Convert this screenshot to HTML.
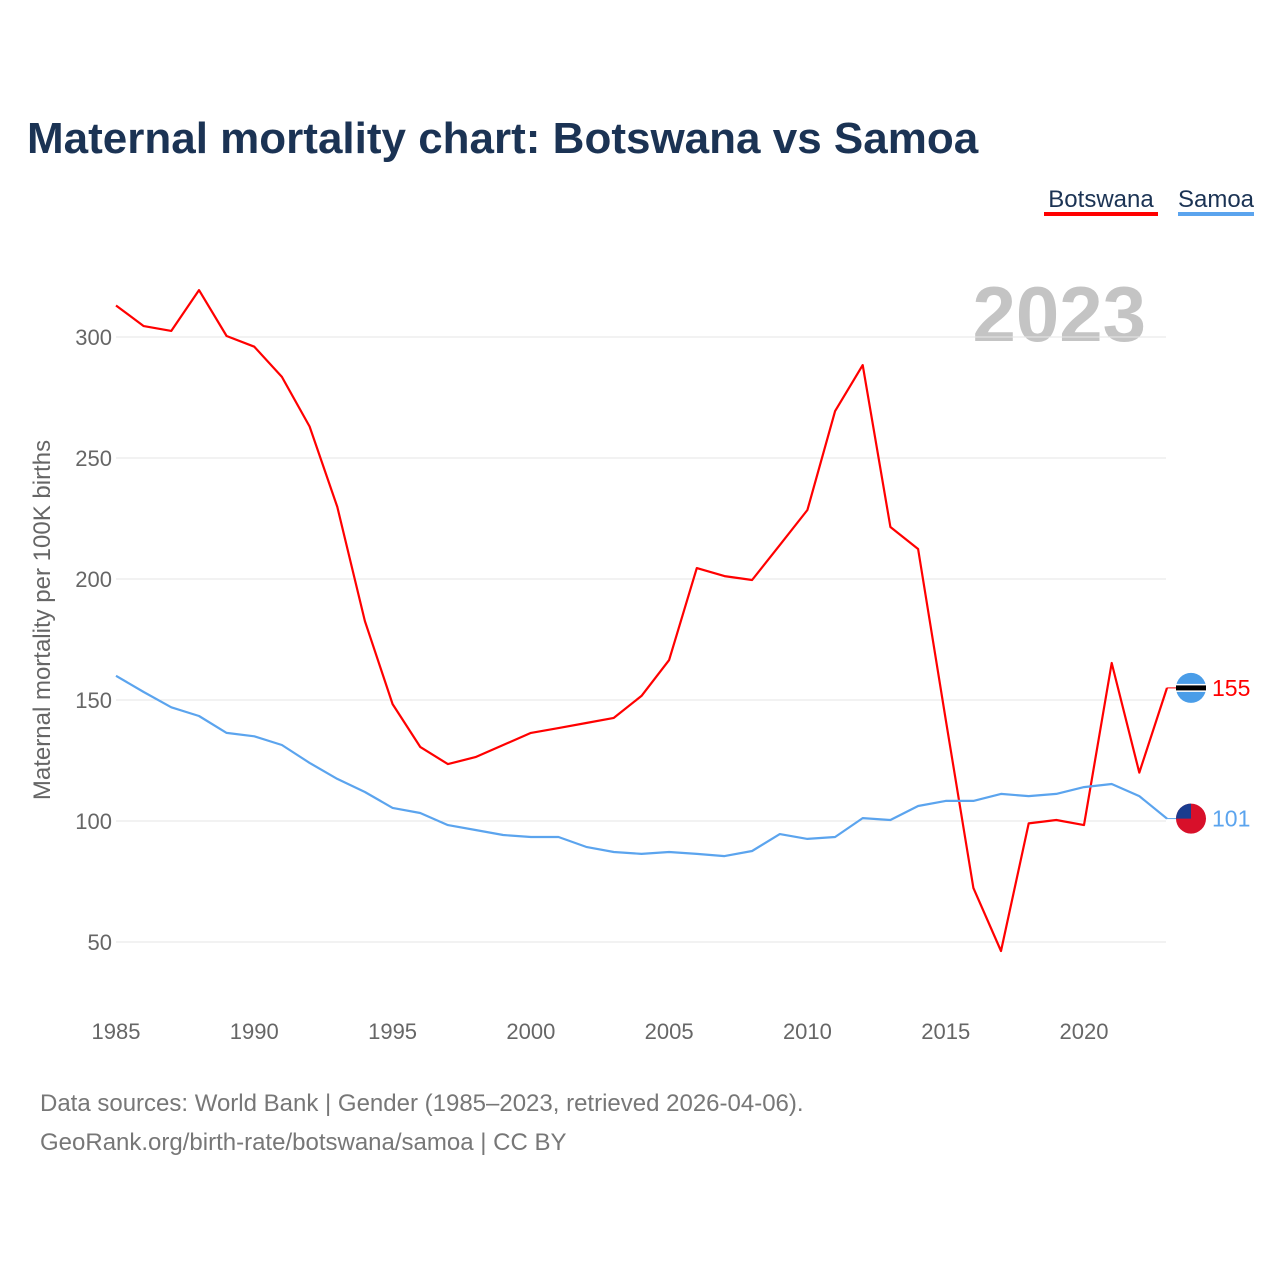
<!DOCTYPE html>
<html><head><meta charset="utf-8"><style>
html,body{margin:0;padding:0;background:#fff;}
body{width:1280px;height:1280px;position:relative;font-family:"Liberation Sans",sans-serif;overflow:hidden}
</style></head><body>
<svg width="1280" height="1280" xmlns="http://www.w3.org/2000/svg" id="chart">
<text x="27" y="153" font-size="44" font-weight="bold" fill="#1b3354">Maternal mortality chart: Botswana vs Samoa</text>
<g><text x="1101" y="207" font-size="24" fill="#1b3354" text-anchor="middle">Botswana</text><rect x="1044" y="212" width="114" height="4" fill="#ff0000"/></g>
<g><text x="1216" y="207" font-size="24" fill="#1b3354" text-anchor="middle">Samoa</text><rect x="1178" y="212" width="76" height="4" fill="#5ba4ee"/></g>
<text x="1146" y="341" font-size="78" font-weight="bold" fill="#c4c4c4" text-anchor="end">2023</text>
<g id="grid"></g><g id="xt"></g><g id="lines"></g>
<text transform="translate(50,620) rotate(-90)" font-size="24" fill="#666" text-anchor="middle">Maternal mortality per 100K births</text>
<text x="40" y="1111" font-size="24" fill="#777">Data sources: World Bank | Gender (1985–2023, retrieved 2026-04-06).</text>
<text x="40" y="1150" font-size="24" fill="#777">GeoRank.org/birth-rate/botswana/samoa | CC BY</text>
</svg>
<script>
const years=[];for(let y=1985;y<=2023;y++)years.push(y);
const botswana=[313,304.5,302.5,319.4,300.4,296,283.5,263,229.8,182.6,148.3,130.6,123.5,126.4,131.4,136.4,138.4,140.5,142.6,151.7,166.5,204.5,201.2,199.6,214,228.5,269.4,288.4,221.5,212.4,142,72.3,46.3,99,100.4,98.3,165.3,120,155];
const samoa=[160,153.3,147,143.4,136.4,135,131.4,124,117.4,112,105.4,103.3,98.3,96.3,94.2,93.4,93.4,89.3,87.2,86.4,87.2,86.4,85.5,87.6,94.6,92.6,93.4,101.2,100.4,106.2,108.3,108.3,111.2,110.3,111.2,114,115.3,110.3,101];
const yTicks=[50,100,150,200,250,300];
const xTicks=[1985,1990,1995,2000,2005,2010,2015,2020];
const NS="http://www.w3.org/2000/svg";
const X=v=>116+(v-1985)*(1084-116)/35;
const Y=v=>821-(v-100)*2.42;
function el(t,a,p){const e=document.createElementNS(NS,t);for(const k in a)e.setAttribute(k,a[k]);document.getElementById(p)?document.getElementById(p).appendChild(e):p.appendChild(e);return e;}
yTicks.forEach(t=>{
 const l=el('line',{x1:116,x2:1166,y1:Y(t),y2:Y(t),stroke:'#e6e6e6','stroke-width':1},'grid');
 
 
 const tx=el('text',{x:112,y:Y(t)+8,'font-size':22,fill:'#666','text-anchor':'end'},'grid');tx.textContent=t;
 
 
});
xTicks.forEach(t=>{
 const tx=el('text',{x:X(t),y:1039,'font-size':22,fill:'#666','text-anchor':'middle'},'xt');tx.textContent=t;
 
 
});
function series(d,c,name){
 const p=el('path',{d:d.map((v,i)=>(i?'L':'M')+X(years[i]).toFixed(1)+','+Y(v).toFixed(1)).join(''),fill:'none',stroke:c,'stroke-width':2.2,'stroke-linejoin':'round'},'lines');
 
 
 const last=d[d.length-1],ly=Y(last);
 el('line',{x1:X(2023),x2:1176,y1:ly,y2:ly,stroke:c,'stroke-width':1},'lines');
 const lab=el('text',{x:1212,y:ly+8,'font-size':23,fill:c},'lines');lab.textContent=Math.round(last);
 
 
 return ly;
}
const by=series(botswana,'#ff0000','botswana');
const sy=series(samoa,'#5ba4ee','samoa');
const g1=el('g',{},'lines');


el('circle',{cx:1191,cy:by,r:15,fill:'#4a9de8'},g1);
el('rect',{x:1176,y:by-4,width:30,height:8,fill:'#fff'},g1);
el('rect',{x:1176,y:by-2.5,width:30,height:5,fill:'#000'},g1);
const g2=el('g',{},'lines');


el('circle',{cx:1191,cy:sy,r:15,fill:'#d8102a'},g2);
el('path',{d:`M1176,${sy} A15,15 0 0 1 1191,${sy-15} L1191,${sy} Z`,fill:'#1a3c8f'},g2);
</script>
</body></html>
